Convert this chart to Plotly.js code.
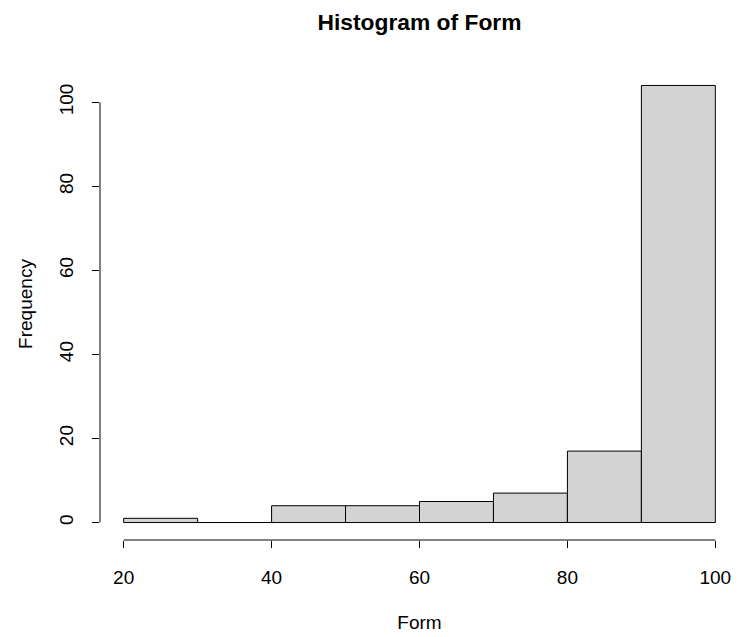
<!DOCTYPE html>
<html>
<head>
<meta charset="utf-8">
<script src="https://cdn.plot.ly/plotly-3.0.1.min.js"></script>
<style>html,body{margin:0;padding:0;background:#fff;}#chart{width:739px;height:637px;}</style>
</head>
<body>
<div id="chart"></div>
<script>
// Histogram data
const binEdges = [20, 30, 40, 50, 60, 70, 80, 90, 100];
const counts = [1, 0, 4, 4, 5, 7, 17, 104];
const xTicks = [20, 40, 60, 80, 100];
const yTicks = [0, 20, 40, 60, 80, 100];
const titleText = "Histogram of Form";
const xLabel = "Form";
const yLabel = "Frequency";

const mids = counts.map((c, i) => (binEdges[i] + binEdges[i + 1]) / 2);
const widths = counts.map((c, i) => binEdges[i + 1] - binEdges[i]);

const FONT = "Liberation Sans, Arial, Helvetica, sans-serif";
const FS = 19;
const xmin = binEdges[0], xmax = binEdges[binEdges.length - 1];
const xpad = (xmax - xmin) * 0.04;
const ymax = Math.max(...counts);
const ypad = ymax * 0.04;

const trace = {
  type: 'bar',
  x: mids,
  y: counts,
  width: widths,
  marker: {color: '#d3d3d3', line: {color: '#000', width: 1}},
  hoverinfo: 'x+y'
};

const layout = {
  width: 739, height: 637,
  paper_bgcolor: '#fff', plot_bgcolor: '#fff',
  margin: {l: 100, r: 0, t: 68, b: 96.5},
  font: {family: FONT, size: FS, color: '#000'},
  showlegend: false,
  bargap: 0,
  title: {text: '<b>' + titleText + '</b>', font: {family: FONT, size: FS * 1.2, color: '#000'},
          x: 0.5, xanchor: 'center', xref: 'paper', y: 1 - 22 / 637, yref: 'container', yanchor: 'middle'},
  xaxis: {
    range: [xmin - xpad, xmax + xpad],
    tickvals: xTicks, ticktext: xTicks.map(String),
    ticks: 'outside', ticklen: 7, tickwidth: 1, tickcolor: '#000',
    ticklabelstandoff: 13,
    showline: false, showgrid: false, zeroline: false,
    tickfont: {family: FONT, size: FS, color: '#000'},
    title: {text: xLabel, font: {family: FONT, size: FS, color: '#000'}, standoff: 28}
  },
  yaxis: {
    range: [-ypad, ymax + ypad],
    tickvals: yTicks, ticktext: yTicks.map(String),
    ticks: 'outside', ticklen: 7, tickwidth: 1, tickcolor: '#000', tickangle: -90,
    ticklabelstandoff: 11,
    showline: false, showgrid: false, zeroline: false,
    tickfont: {family: FONT, size: FS, color: '#000'},
    title: {text: yLabel, font: {family: FONT, size: FS, color: '#000'}, standoff: 18}
  },
  shapes: [
    {type: 'line', xref: 'x', yref: 'paper', x0: xTicks[0], x1: xTicks[xTicks.length - 1], y0: 0, y1: 0,
     line: {color: '#000', width: 1}},
    {type: 'line', xref: 'paper', yref: 'y', x0: 0, x1: 0, y0: yTicks[0], y1: yTicks[yTicks.length - 1],
     line: {color: '#000', width: 1}}
  ]
};

Plotly.newPlot('chart', [trace], layout, {displayModeBar: false, staticPlot: true});
</script>
</body>
</html>
